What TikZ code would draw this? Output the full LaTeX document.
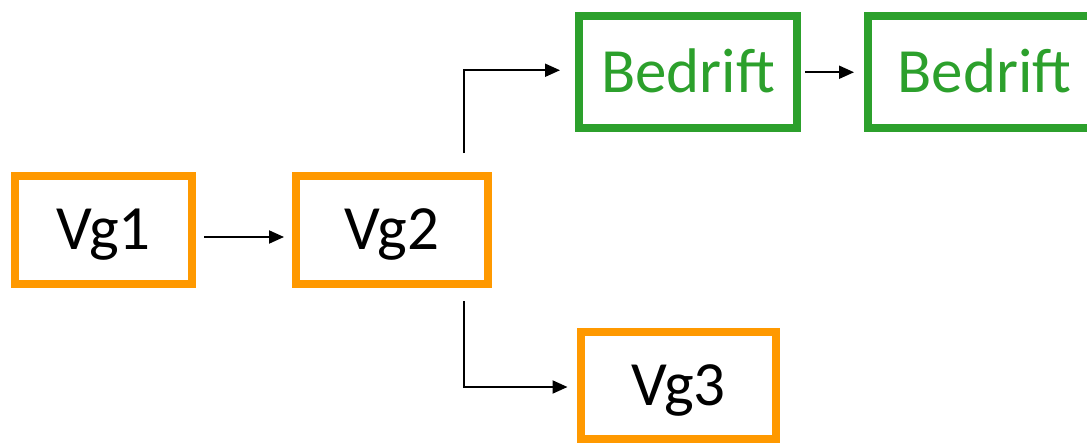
\documentclass[tikz,border=0pt]{standalone}
\usepackage{fontspec}
\setmainfont{Carlito}
\usetikzlibrary{arrows.meta}
\definecolor{vgorange}{HTML}{FF9900}
\definecolor{bgreen}{HTML}{2CA02C}
\begin{document}
\begin{tikzpicture}[x=1pt,y=-1pt,
  box/.style={draw, line width=8pt, inner sep=0pt, rectangle,
    font=\fontsize{63}{63}\selectfont, text height=40pt, text depth=0pt},
  vgbox/.style={box, draw=vgorange, text=black},
  bbox/.style={box, draw=bgreen, text=bgreen},
  arr/.style={draw=black, line width=2pt, -{Triangle[length=15pt,width=13pt]}}]
\useasboundingbox (0,0) rectangle (1087,444);
\node[vgbox, minimum width=177pt, minimum height=108.5pt] (vg1) at (103.5,229.75) {Vg1};
\node[vgbox, minimum width=192pt, minimum height=108.5pt] (vg2) at (392,229.75) {Vg2};
\node[bbox, minimum width=218pt, minimum height=111.5pt] (b1) at (688,72.25) {Bedrift};
\node[bbox, minimum width=233pt, minimum height=111.5pt] (b2) at (984.5,72.25) {Bedrift};
\node[vgbox, minimum width=195pt, minimum height=107pt] (vg3) at (678.5,385.5) {Vg3};
\coordinate (up) at ([xshift=71.5pt,yshift=18.5pt]vg2.north);
\coordinate (down) at ([xshift=72pt,yshift=-13pt]vg2.south);
\draw[arr, shorten <=8pt, shorten >=8pt] ([yshift=-7.25pt]vg1.east) -- ([yshift=-7.25pt]vg2.west);
\draw[arr, shorten >=15pt] (up) |- ([yshift=2pt]b1.west);
\draw[arr, shorten >=9.5pt] (down) |- ([yshift=-1.5pt]vg3.west);
\draw[arr, shorten <=4pt, shorten >=10pt] (b1.east) -- (b2.west);
\end{tikzpicture}
\end{document}
